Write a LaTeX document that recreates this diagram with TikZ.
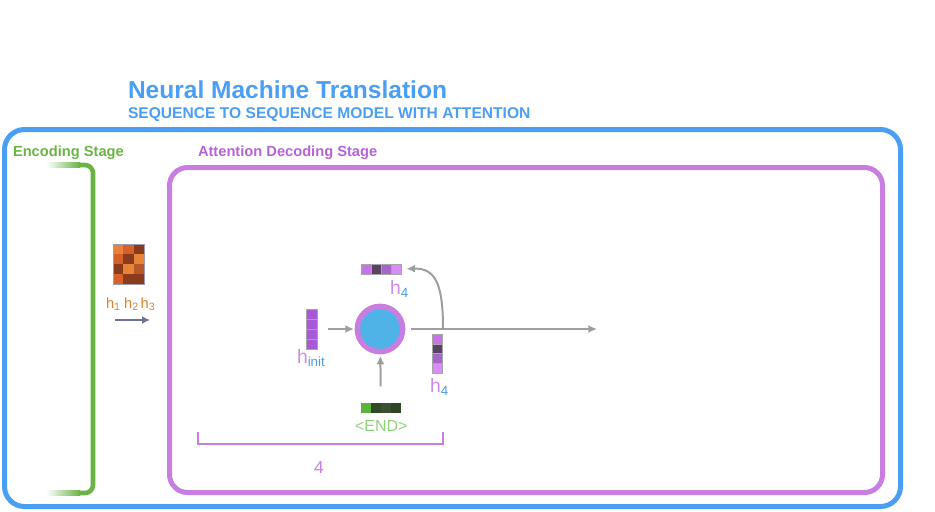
\documentclass[tikz,border=0pt]{standalone}
\usepackage{fontspec}
\setmainfont{Liberation Sans}
\usetikzlibrary{arrows.meta, positioning, calc}
\definecolor{nmtblue}{HTML}{4A9FF5}
\definecolor{encgreen}{HTML}{6AB446}
\definecolor{decpurple}{HTML}{C77EE0}
\definecolor{dectext}{HTML}{B563D9}
\definecolor{linkgrey}{HTML}{9E9E9E}
\definecolor{hpink}{HTML}{D08AE8}
\definecolor{hblue}{HTML}{4A9FE0}
\definecolor{endgreen}{HTML}{8FD07A}
\definecolor{attnblue}{HTML}{4FB3E8}
\definecolor{encorange}{HTML}{D9822B}
\definecolor{encarrow}{HTML}{6E7394}
\definecolor{orA}{HTML}{E8843A}
\definecolor{orB}{HTML}{D4622A}
\definecolor{orC}{HTML}{8A3B1C}
\definecolor{orD}{HTML}{B5582A}
\definecolor{puA}{HTML}{C674E4}
\definecolor{puB}{HTML}{5A4262}
\definecolor{puC}{HTML}{A466C8}
\definecolor{puD}{HTML}{D88CF4}
\definecolor{puI}{HTML}{A65AD8}
\definecolor{grA}{HTML}{5AB33A}
\definecolor{grB}{HTML}{2E4A22}
\definecolor{grC}{HTML}{3B4F32}
\definecolor{grD}{HTML}{2F4624}
\newcommand{\hlab}[2]{{\fontsize{14.5}{16}\selectfont\color{hpink}h}%
  \raisebox{-2.5pt}{\fontsize{10}{12}\selectfont\color{hblue}#1}}

\tikzset{
  txt/.style={inner sep=0pt, outer sep=0pt, anchor=base west},
  stagelabel/.style={txt, font=\bfseries\fontsize{11}{13}\selectfont},
  vecnode/.style n args={2}{minimum width=#1, minimum height=#2,
    inner sep=0pt, outer sep=0pt},
  cell/.style={draw=black!35, line width=0.3pt},
  link/.style={draw=linkgrey, line width=1.5pt,
    -{Latex[length=6.5pt, width=6pt]}},
}

\begin{document}
\begin{tikzpicture}[x=0.75pt, y=-0.75pt]
  \useasboundingbox (0,0) rectangle (935,511);
  % titles
  \node[txt, text=nmtblue, font=\bfseries\fontsize{18.4}{22}\selectfont]
    (title) at (128,98) {Neural Machine Translation};
  \node[txt, text=nmtblue, font=\bfseries\fontsize{11.7}{14}\selectfont]
    (subtitle) at (128,118) {SEQUENCE TO SEQUENCE MODEL WITH ATTENTION};
  % frames
  \draw[nmtblue, line width=3.75pt, rounded corners=15pt]
    (4.5,129.5) rectangle (900.5,506.5);
  \node[stagelabel, text=encgreen] (enclabel) at (13,156) {Encoding Stage};
  \node[stagelabel, text=dectext] (declabel) at (198,156)
    {Attention Decoding Stage};
  \draw[decpurple, line width=3.75pt, rounded corners=13.5pt]
    (169.5,167.5) rectangle (882.5,492.5);
  % encoder bracket
  \shade[left color=white, right color=encgreen]
    (46,162.75) rectangle (80,167.25);
  \shade[left color=white, right color=encgreen]
    (46,490.75) rectangle (80,495.25);
  \draw[encgreen, line width=3.4pt, rounded corners=6pt]
    (79,165) -- (93,165) -- (93,493) -- (79,493);
  % encoder states
  \node[vecnode={23.25pt}{30pt}] (encmat) at (128.5,264) {};
  \foreach \cx/\cy/\cc in {0/0/orA, 1/0/orB, 2/0/orC, 0/1/orB, 1/1/orC,
                           2/1/orA, 0/2/orC, 1/2/orA, 2/2/orD, 0/3/orB,
                           1/3/orC, 2/3/orC}{%
    \fill[\cc] ($(encmat.north west)+(\cx*10.33,\cy*10)$) rectangle +(10.33,10);}
  \draw[encarrow!70, line width=0.4pt] (encmat.north west) rectangle
    (encmat.south east);
  \node[txt, text=encorange] (enclab) at (106,308)
    {\fontsize{11}{12}\selectfont h\raisebox{-1.5pt}{\fontsize{8}{9}\selectfont 1}
     h\raisebox{-1.5pt}{\fontsize{8}{9}\selectfont 2}\,%
     h\raisebox{-1.5pt}{\fontsize{8}{9}\selectfont 3}};
  \coordinate (encfrom) at (115,320);
  \coordinate (encto) at (150,320);
  \draw[encarrow, line width=1.5pt, -{Latex[length=6pt, width=6pt]}]
    (encfrom) -- (encto);
  % decoder step
  \node[circle, draw=decpurple, line width=4.1pt, fill=attnblue,
    minimum size=34pt, inner sep=0pt] (attn) at (380,329) {};
  \node[vecnode={8.25pt}{30pt}] (hinit) at (311.5,329) {};
  \foreach \i in {0,...,3}{%
    \draw[cell, fill=puI] ($(hinit.north west)+(0,10*\i)$) rectangle +(11,10);}
  \node[txt] (hinitlab) at (297,363) {\hlab{init}{}};
  \node[vecnode={30pt}{7.5pt}] (h4top) at (381,269) {};
  \foreach \cc [count=\i from 0] in {puA, puB, puC, puD}{%
    \draw[cell, fill=\cc] ($(h4top.north west)+(10*\i,0)$) rectangle +(10,10);}
  \node[txt] (h4toplab) at (390,294) {\hlab{4}{}};
  \node[vecnode={7.5pt}{29.25pt}] (h4side) at (437,353.5) {};
  \foreach \cc [count=\i from 0] in {puA, puB, puC, puD}{%
    \draw[cell, fill=\cc] ($(h4side.north west)+(0,9.75*\i)$) rectangle +(10,9.75);}
  \node[txt] (h4sidelab) at (430,392) {\hlab{4}{}};
  \node[vecnode={30pt}{7.5pt}] (endvec) at (381,408) {};
  \foreach \cc [count=\i from 0] in {grA, grB, grC, grD}{%
    \fill[\cc] ($(endvec.north west)+(10*\i,0)$) rectangle +(10,10);}
  \node[txt, text=endgreen, font=\fontsize{12}{14}\selectfont]
    (endlab) at (355,431) {<END>};
  % connectors
  \coordinate (outend) at (597,329);
  \coordinate (split) at (443,329);
  \draw[link, shorten <=8pt, shorten >=0.5pt] (hinit) -- (attn);
  \draw[link, shorten <=12.5pt, shorten >=1pt] (endvec) -- (attn);
  \draw[link, shorten <=4.5pt] (attn) -- (outend);
  \draw[link, shorten >=4pt] (split) .. controls (443,285) and (436,268)
    .. (h4top.east);
  % step bracket
  \draw[decpurple, line width=2pt] (198,432) -- (198,444) -- (443,444)
    -- (443,432);
  \node[text=decpurple, font=\fontsize{13}{15}\selectfont, inner sep=0pt]
    (steplab) at (319,468) {4};
\end{tikzpicture}
\end{document}
